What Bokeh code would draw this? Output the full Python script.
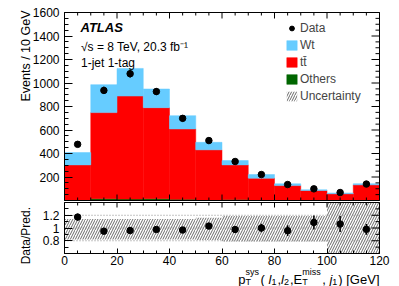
import numpy as np
from bokeh.plotting import figure
from bokeh.models import (ColumnDataSource, Range1d, FixedTicker, LinearAxis,
                          Legend, LegendItem, BoxAnnotation)
from bokeh.embed import file_html
from bokeh.resources import INLINE
from bokeh.core.properties import value

# ---------------- data ----------------
bin_lo = [0, 10, 20, 30, 40, 50, 60, 70, 80, 90, 100, 110]
bin_hi = [10, 20, 30, 40, 50, 60, 70, 80, 90, 100, 110, 120]
others = [5, 15, 12, 15, 10, 5, 8, 4, 3, 2, 2, 3]
ttbar = [298, 733, 877, 775, 599, 426, 295, 186, 124, 83, 55, 130]
wt = [105, 238, 235, 159, 113, 64, 37, 31, 15, 6, 7, 10]
data = [478, 937, 1079, 927, 699, 510, 332, 221, 136, 99, 68, 140]
data_err = [22, 31, 33, 30, 26, 23, 18, 15, 12, 10, 8, 12]
unc_up = [1.14, 1.14, 1.14, 1.14, 1.14, 1.16, 1.19, 1.19, 1.19, 1.19, 1.6, 1.6]
unc_dn = [0.82, 0.82, 0.82, 0.82, 0.82, 0.81, 0.79, 0.79, 0.79, 0.79, 0.4, 0.4]
x_ticks = [0, 20, 40, 60, 80, 100, 120]
y_ticks = [200, 400, 600, 800, 1000, 1200, 1400, 1600]
ratio_ticks = [0.8, 1.0, 1.2]
ratio_labels = {0.8: "0.8", 1: "1", 1.2: "1.2"}

FONT = "Liberation Sans"
BLUE = "#66ccff"
RED = "#ff0000"
GREEN = "#006600"
HATCH = dict(hatch_pattern="/", hatch_color="#444444", hatch_scale=5, hatch_weight=0.8)

# panel extents (axis ranges)
X0, X1 = 0, 120
Y0, Y1 = 0, 1600
R0, R1 = 0.6, 1.4

centers = [(a + b) / 2 for a, b in zip(bin_lo, bin_hi)]
t0 = list(others)
t1 = [a + b for a, b in zip(t0, ttbar)]
t2 = [a + b for a, b in zip(t1, wt)]
ratio = [d / t for d, t in zip(data, t2)]
ratio_err = [e / t for e, t in zip(data_err, t2)]
band_top = [min(u, R1) for u in unc_up]
band_bot = [max(d, R0) for d in unc_dn]

x_minor = [v for v in range(0, 121, 5) if v not in x_ticks]
y_minor = [v for v in range(50, 1601, 50) if v not in y_ticks]
r_minor = [0.7, 0.9, 1.1, 1.3]

# ---------------- page geometry (pixels, canvas = whole page) ----------------
WPX, HPX = 399, 286
FL, FR = 64, 379          # panel left / right
MT, MB = 12, 200          # main panel top / bottom
RT, RB = 202, 253         # ratio panel top / bottom
SX = (FR - FL) / (X1 - X0)
SY = (MB - MT) / (Y1 - Y0)
SR = (RB - RT) / (R1 - R0)

x_range = Range1d(X0 - FL / SX, X1 + (WPX - FR) / SX)
y_range = Range1d(Y0 - (HPX - MB) / SY, Y1 + MT / SY)
r_range = Range1d(R0 - (HPX - RB) / SR, R1 + RT / SR)


def xd(px):
    return X0 + (px - FL) / SX


def ym(py):
    return Y0 + (MB - py) / SY


def yr(py):
    return R0 + (RB - py) / SR


p = figure(width=WPX, height=HPX, x_range=x_range, y_range=y_range,
           output_backend="svg", toolbar_location=None,
           x_axis_type=None, y_axis_type=None,
           min_border=0, min_border_left=0, min_border_right=0,
           min_border_top=0, min_border_bottom=0)
p.extra_y_ranges = {"ratio": r_range}
p.grid.visible = False
p.outline_line_color = None
p.background_fill_color = "white"
p.border_fill_color = "white"


def style_axis(ax, ticks, minor, major_in, minor_in, standoff):
    ax.ticker = FixedTicker(ticks=ticks, minor_ticks=minor)
    ax.major_tick_in = major_in
    ax.major_tick_out = 0
    ax.minor_tick_in = minor_in
    ax.minor_tick_out = 0
    ax.axis_line_color = "black"
    ax.major_tick_line_color = "black"
    ax.minor_tick_line_color = "black"
    ax.major_label_text_font = FONT
    ax.major_label_text_font_size = "12px"
    ax.major_label_text_color = "black"
    ax.major_label_standoff = standoff


def ticks_h(ticks, y, length_px, down, rng=None):
    """inward tick marks on a horizontal panel edge"""
    if rng is None:
        L = length_px / SY
        kw = {}
    else:
        L = length_px / SR
        kw = {"y_range_name": rng}
    y1 = y - L if down else y + L
    p.segment(x0=ticks, x1=ticks, y0=[y] * len(ticks), y1=[y1] * len(ticks),
              line_color="black", line_width=1, **kw)


def ticks_v(ticks, x, length_px, rng=None):
    """inward tick marks on the right panel edge"""
    L = length_px / SX
    kw = {} if rng is None else {"y_range_name": rng}
    p.segment(x0=[x] * len(ticks), x1=[x - L] * len(ticks), y0=ticks, y1=ticks,
              line_color="black", line_width=1, **kw)


# ---------------- main panel ----------------
src = ColumnDataSource(dict(left=bin_lo, right=bin_hi, b0=[0] * len(bin_lo),
                            t0=t0, t1=t1, t2=t2))
r_oth = p.quad(left="left", right="right", bottom="b0", top="t0", source=src,
               fill_color=GREEN, line_color=GREEN, line_width=0.5)
r_tt = p.quad(left="left", right="right", bottom="t0", top="t1", source=src,
              fill_color=RED, line_color=RED, line_width=0.5)
r_wt = p.quad(left="left", right="right", bottom="t1", top="t2", source=src,
              fill_color=BLUE, line_color=BLUE, line_width=0.5)

dsrc = ColumnDataSource(dict(x=centers, y=data,
                             lo=[d - e for d, e in zip(data, data_err)],
                             hi=[d + e for d, e in zip(data, data_err)]))
p.segment(x0="x", y0="lo", x1="x", y1="hi", source=dsrc, line_color="black", line_width=1.5)
r_dot = p.scatter(x="x", y="y", source=dsrc, marker="circle", size=6.5,
                  fill_color="black", line_color="black")

ax_main = LinearAxis(fixed_location=X0, bounds=(Y0, Y1))
style_axis(ax_main, y_ticks, y_minor, 8, 4, 5)
p.add_layout(ax_main, "left")
ticks_h(x_ticks, Y0, 6, False)
ticks_h(x_minor, Y0, 3, False)
ticks_h(x_ticks, Y1, 6, True)
ticks_h(x_minor, Y1, 3, True)
ticks_v(y_ticks, X1, 8)
ticks_v(y_minor, X1, 4)
p.add_layout(BoxAnnotation(left=X0, right=X1, bottom=Y0, top=Y1, fill_alpha=0,
                           line_color="black", line_width=1, line_alpha=1))

# legend proxies, placed outside the visible panels
proxy = ColumnDataSource(dict(x=[-100], y=[-5000], l=[-100], r=[-90], b=[-5000], t=[-4000]))
r_unc = p.quad(left="l", right="r", bottom="b", top="t", source=proxy,
               fill_color="white", fill_alpha=0, line_color=None, **HATCH)
r_bar = p.scatter(x="x", y="y", source=proxy, marker="dash", angle=np.pi / 2, size=10,
                  line_color="black", line_width=1.2)

legend = Legend(items=[
    LegendItem(label="Data", renderers=[r_bar, r_dot]),
    LegendItem(label="Wt", renderers=[r_wt]),
    LegendItem(label="t\u0074\u0304", renderers=[r_tt]),
    LegendItem(label="Others", renderers=[r_oth]),
    LegendItem(label="Uncertainty", renderers=[r_unc]),
], location=(285, HPX - 103), padding=0, margin=0, spacing=3,
    glyph_width=13, glyph_height=12, label_height=12, label_standoff=2,
    label_text_font=FONT, label_text_font_size="12px",
    border_line_alpha=0, background_fill_alpha=0)
p.add_layout(legend)

p.text(x=[xd(80)], y=[ym(26.7)], text=["ATLAS"], text_font=value(FONT),
       text_font_size="13px", text_font_style="bold italic", text_baseline="alphabetic")
p.text(x=[xd(80.5)], y=[ym(46.7)], text=["\u221as = 8 TeV, 20.3 fb\u207b\u00b9"],
       text_font=value(FONT), text_font_size="12px", text_baseline="alphabetic")
p.text(x=[xd(80.5)], y=[ym(62)], text=["1-jet 1-tag"],
       text_font=value(FONT), text_font_size="12px", text_baseline="alphabetic")
p.text(x=[xd(25)], y=[ym(10)], text=["Events / 10 GeV"], angle=np.pi / 2,
       text_align="right", text_baseline="alphabetic",
       text_font=value(FONT), text_font_size="12.5px")

# ---------------- ratio panel ----------------
usrc = ColumnDataSource(dict(left=bin_lo, right=bin_hi, top=band_top, bottom=band_bot))
p.quad(left="left", right="right", bottom="bottom", top="top", source=usrc,
       fill_color=None, line_color=None, y_range_name="ratio", **HATCH)
lsrc = ColumnDataSource(dict(x0=[X0] * 3, x1=[X1] * 3, y=ratio_ticks))
p.segment(x0="x0", x1="x1", y0="y", y1="y", source=lsrc, y_range_name="ratio",
          line_color="#888888", line_dash="1 2", line_width=1)

rsrc = ColumnDataSource(dict(x=centers, y=ratio,
                             lo=[a - e for a, e in zip(ratio, ratio_err)],
                             hi=[a + e for a, e in zip(ratio, ratio_err)]))
p.segment(x0="x", y0="lo", x1="x", y1="hi", source=rsrc, line_color="black",
          line_width=1.5, y_range_name="ratio")
p.scatter(x="x", y="y", source=rsrc, marker="circle", size=6.5,
          fill_color="black", line_color="black", y_range_name="ratio")

ax_ratio = LinearAxis(y_range_name="ratio", fixed_location=X0, bounds=(R0, R1))
style_axis(ax_ratio, ratio_ticks, r_minor, 8, 4, 5)
ax_ratio.major_label_overrides = ratio_labels
p.add_layout(ax_ratio, "left")
ax_x = LinearAxis(y_range_name="ratio", fixed_location=R0, bounds=(X0, X1))
style_axis(ax_x, x_ticks, x_minor, 5, 3, 2)
p.add_layout(ax_x, "below")
ticks_h(x_ticks, R1, 5, True, "ratio")
ticks_h(x_minor, R1, 3, True, "ratio")
ticks_v(ratio_ticks, X1, 8, "ratio")
ticks_v(r_minor, X1, 4, "ratio")
p.add_layout(BoxAnnotation(left=X0, right=X1, bottom=R0, top=R1, y_range_name="ratio",
                           fill_alpha=0, line_color="black", line_width=1, line_alpha=1))

p.text(x=[xd(25)], y=[yr(206.5)], text=["Data/Pred."], angle=np.pi / 2,
       text_align="right", text_baseline="alphabetic", y_range_name="ratio",
       text_font=value(FONT), text_font_size="12px")

# x title built from pieces (sub/superscripts)
ADV = {"p": .556, "T": .611, "s": .5, "y": .5, " ": .278, "(": .333, ")": .333,
       "l": .222, "1": .556, "2": .556, ",": .278, "E": .667, "m": .833, "i": .222,
       "j": .222, "[": .278, "G": .778, "e": .556, "V": .667, "]": .278}
F, f = 13.0, 9.0
GAP_GRP, GAP_SUB = 1.5, 1.0


def tw(s, size):
    return sum(ADV.get(c, .556) for c in s) * size


pieces = [("p", None, None, False), ("T", "sys", None, False), (" (", None, None, False),
          ("l", None, None, True), ("1", None, "sub", False), (",", None, None, False),
          ("l", None, None, True), ("2", None, "sub", False), (",", None, None, False),
          ("E", None, None, False), ("T", "miss", None, False), (", ", None, None, False),
          ("j", None, None, True), ("1", None, "sub", False), (") [GeV]", None, None, False)]


def advance(a, b, kind):
    if b is not None:
        return max(tw(a, f), tw(b, f)) + GAP_GRP
    if kind == "sub":
        return tw(a, f) + GAP_SUB
    return tw(a, F)


total = sum(advance(a, b, k) for a, b, k, it in pieces)

BASE = 278.5
tx, ty, tt, tsz, tst = [], [], [], [], []
cur = FR - total
for a, b, kind, it in pieces:
    if b is not None:
        tx += [xd(cur), xd(cur)]
        ty += [yr(BASE + 2.5), yr(BASE - 7.5)]
        tt += [a, b]
        tsz += [f"{f}px", f"{f}px"]
        tst += ["normal", "normal"]
    elif kind == "sub":
        tx.append(xd(cur)); ty.append(yr(BASE + 2.5)); tt.append(a)
        tsz.append(f"{f}px"); tst.append("normal")
    else:
        tx.append(xd(cur)); ty.append(yr(BASE)); tt.append(a)
        tsz.append(f"{F}px"); tst.append("italic" if it else "normal")
    cur += advance(a, b, kind)
tsrc = ColumnDataSource(dict(x=tx, y=ty, text=tt, size=tsz, style=tst))
p.text(x="x", y="y", text="text", source=tsrc, text_font=value(FONT),
       text_font_size="size", text_font_style="style", text_baseline="alphabetic",
       text_align="left", text_color="black", y_range_name="ratio")

open("out.html", "w").write(file_html(p, INLINE))
